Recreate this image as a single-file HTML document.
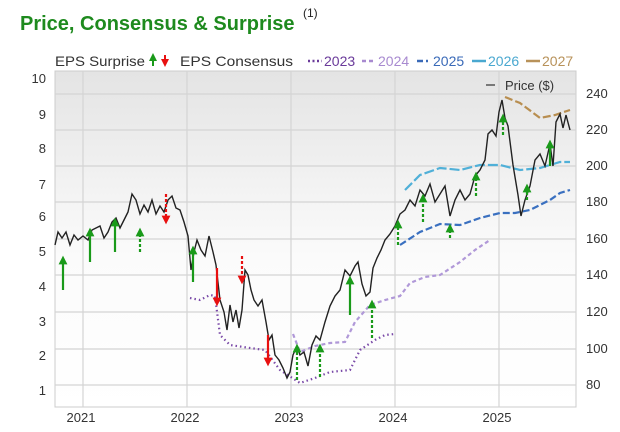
<!DOCTYPE html>
<html><head><meta charset="utf-8"><style>
body{margin:0;background:#fff;width:620px;height:427px;overflow:hidden;font-family:"Liberation Sans",sans-serif}
</style></head><body>
<svg width="620" height="427" xmlns="http://www.w3.org/2000/svg" font-family="Liberation Sans, sans-serif">
<defs>
<linearGradient id="bg" x1="0" y1="0" x2="0" y2="1"><stop offset="0" stop-color="#e4e4e4"/><stop offset="0.55" stop-color="#fbfbfb"/><stop offset="1" stop-color="#fff"/></linearGradient>
<marker id="ag" markerWidth="4" markerHeight="4" refX="2" refY="2" orient="auto"><path d="M0,0L4,2L0,4z" fill="#1a9a1a"/></marker>
<marker id="ar" markerWidth="4" markerHeight="4" refX="2" refY="2" orient="auto"><path d="M0,0L4,2L0,4z" fill="#e81010"/></marker>
</defs>
<text x="20" y="30" font-size="20" font-weight="bold" fill="#1e8a1e">Price, Consensus &amp; Surprise</text>
<text x="303" y="17" font-size="12" fill="#222">(1)</text>
<g font-size="14" fill="#333">
<text x="55" y="66" textLength="90" lengthAdjust="spacingAndGlyphs">EPS Surprise</text>
<line x1="153" y1="66" x2="153" y2="57" stroke="#1a9a1a" stroke-width="2" marker-end="url(#ag)"/>
<line x1="165" y1="55" x2="165" y2="63" stroke="#e81010" stroke-width="2" marker-end="url(#ar)"/>
<text x="180" y="66" textLength="113" lengthAdjust="spacingAndGlyphs">EPS Consensus</text>
<line x1="308" y1="61" x2="322" y2="61" stroke="#6a3a9a" stroke-width="2.5" stroke-dasharray="2,2.5"/>
<text x="324" y="66" fill="#6a3a9a">2023</text>
<line x1="362" y1="61" x2="376" y2="61" stroke="#a88ad0" stroke-width="2.5" stroke-dasharray="4,3"/>
<text x="378" y="66" fill="#a88ad0">2024</text>
<line x1="417" y1="61" x2="431" y2="61" stroke="#3a6ab8" stroke-width="2.5" stroke-dasharray="6,3,2,3"/>
<text x="433" y="66" fill="#3a6ab8">2025</text>
<line x1="472" y1="61" x2="486" y2="61" stroke="#4aa8d0" stroke-width="2.5"/>
<text x="488" y="66" fill="#4aa8d0">2026</text>
<line x1="526" y1="61" x2="540" y2="61" stroke="#b8925a" stroke-width="2.5"/>
<text x="542" y="66" fill="#b8925a">2027</text>
</g>
<rect x="55" y="71" width="521" height="336" fill="url(#bg)" stroke="#ccc"/>
<g stroke="#d4d4d4" stroke-width="1.2">
<line x1="83" y1="71" x2="83" y2="407"/><line x1="187" y1="71" x2="187" y2="407"/><line x1="291" y1="71" x2="291" y2="407"/><line x1="395" y1="71" x2="395" y2="407"/><line x1="499" y1="71" x2="499" y2="407"/>
<line x1="55" y1="94" x2="576" y2="94"/><line x1="55" y1="130" x2="576" y2="130"/><line x1="55" y1="166" x2="576" y2="166"/><line x1="55" y1="202" x2="576" y2="202"/><line x1="55" y1="239" x2="576" y2="239"/><line x1="55" y1="275" x2="576" y2="275"/><line x1="55" y1="312" x2="576" y2="312"/><line x1="55" y1="349" x2="576" y2="349"/><line x1="55" y1="385" x2="576" y2="385"/>
</g>
<g font-size="13" fill="#333" text-anchor="end">
<text x="46" y="83">10</text><text x="46" y="119">9</text><text x="46" y="153">8</text><text x="46" y="189">7</text><text x="46" y="221">6</text><text x="46" y="256">5</text><text x="46" y="291">4</text><text x="46" y="326">3</text><text x="46" y="360">2</text><text x="46" y="395">1</text>
</g>
<g font-size="13" fill="#333">
<text x="586" y="98">240</text><text x="586" y="134">220</text><text x="586" y="170">200</text><text x="586" y="206">180</text><text x="586" y="243">160</text><text x="586" y="279">140</text><text x="586" y="316">120</text><text x="586" y="353">100</text><text x="586" y="389">80</text>
</g>
<g font-size="13" fill="#333" text-anchor="middle">
<text x="81" y="422">2021</text><text x="185" y="422">2022</text><text x="289" y="422">2023</text><text x="393" y="422">2024</text><text x="497" y="422">2025</text>
</g>
<line x1="486" y1="85" x2="495" y2="85" stroke="#555" stroke-width="1.5"/>
<text x="505" y="90" font-size="13" fill="#333">Price ($)</text>
<g fill="none" stroke-width="2.2">
<polyline stroke="#7a4aa8" stroke-dasharray="1.5,3" points="190,298 200,300 210,295 215,296 220,335 230,345 250,348 265,350 280,370 300,383 315,378 330,372 350,370 360,350 375,340 385,335 395,334"/>
<polyline stroke="#b098d8" stroke-dasharray="4,3" points="293,334 300,352 315,346 330,343 345,342 355,322 370,305 385,300 400,296 410,283 425,277 440,275 460,262 475,250 490,240"/>
<polyline stroke="#3a70c0" stroke-dasharray="7,3" points="400,245 420,232 440,224 460,225 480,218 500,213 515,213 530,210 550,200 560,193 570,190"/>
<polyline stroke="#50b0d8" stroke-dasharray="10,3" points="405,190 420,175 440,168 460,170 480,165 500,165 520,170 540,168 560,162 570,162"/>
<polyline stroke="#b88e50" stroke-dasharray="8,3" points="505,97 520,103 540,118 555,115 570,110"/>
</g>
<polyline fill="none" stroke="#222" stroke-width="1.4" points="55,245 58,232 62,238 66,232 70,245 74,235 78,240 83,236 88,240 92,230 96,228 100,226 104,238 108,232 112,222 116,218 120,228 124,220 128,212 132,194 136,200 140,214 144,205 148,212 152,200 156,214 160,206 164,212 168,200 172,196 176,208 180,210 184,222 188,236 191,270 194,252 197,240 201,250 205,256 209,236 213,252 216,265 220,300 224,312 227,330 230,305 233,322 236,310 239,328 242,310 245,270 248,275 251,290 254,300 258,306 262,300 266,322 269,340 272,335 275,355 279,360 283,368 287,378 290,372 293,355 297,346 300,355 304,352 308,366 312,345 316,336 320,340 325,322 330,306 335,296 340,290 345,270 350,276 355,266 358,262 362,284 366,296 370,292 373,268 377,258 381,250 385,240 390,234 395,226 400,214 405,210 410,200 415,206 420,190 425,196 430,184 435,202 440,194 445,186 450,216 455,200 460,190 465,200 470,194 475,176 480,170 485,160 488,134 492,130 496,136 499,112 502,100 505,118 508,126 513,165 518,195 521,216 525,200 530,186 535,160 540,154 545,166 550,144 553,166 556,122 560,114 563,128 566,115 570,130"/>
<g stroke-width="2.2">
<line x1="63" y1="290" x2="63" y2="260" stroke="#1a9a1a" marker-end="url(#ag)"/>
<line x1="90" y1="262" x2="90" y2="232" stroke="#1a9a1a" marker-end="url(#ag)"/>
<line x1="115" y1="252" x2="115" y2="222" stroke="#1a9a1a" marker-end="url(#ag)"/>
<line x1="140" y1="252" x2="140" y2="232" stroke="#1a9a1a" stroke-dasharray="3,2" marker-end="url(#ag)"/>
<line x1="193" y1="282" x2="193" y2="250" stroke="#1a9a1a" marker-end="url(#ag)"/>
<line x1="350" y1="315" x2="350" y2="280" stroke="#1a9a1a" marker-end="url(#ag)"/>
<line x1="503" y1="135" x2="503" y2="118" stroke="#1a9a1a" stroke-dasharray="3,2" marker-end="url(#ag)"/>
<line x1="297" y1="380" x2="297" y2="348" stroke="#1a9a1a" stroke-dasharray="3,2" marker-end="url(#ag)"/>
<line x1="320" y1="377" x2="320" y2="348" stroke="#1a9a1a" stroke-dasharray="3,2" marker-end="url(#ag)"/>
<line x1="372" y1="338" x2="372" y2="304" stroke="#1a9a1a" stroke-dasharray="3,2" marker-end="url(#ag)"/>
<line x1="398" y1="245" x2="398" y2="224" stroke="#1a9a1a" stroke-dasharray="3,2" marker-end="url(#ag)"/>
<line x1="423" y1="222" x2="423" y2="198" stroke="#1a9a1a" stroke-dasharray="3,2" marker-end="url(#ag)"/>
<line x1="450" y1="238" x2="450" y2="228" stroke="#1a9a1a" stroke-dasharray="3,2" marker-end="url(#ag)"/>
<line x1="476" y1="196" x2="476" y2="176" stroke="#1a9a1a" stroke-dasharray="3,2" marker-end="url(#ag)"/>
<line x1="527" y1="200" x2="527" y2="188" stroke="#1a9a1a" stroke-dasharray="3,2" marker-end="url(#ag)"/>
<line x1="550" y1="166" x2="550" y2="144" stroke="#1a9a1a" marker-end="url(#ag)"/>
<line x1="166" y1="194" x2="166" y2="220" stroke="#e81010" stroke-dasharray="3,2" marker-end="url(#ar)"/>
<line x1="217" y1="268" x2="217" y2="302" stroke="#e81010" marker-end="url(#ar)"/>
<line x1="242" y1="256" x2="242" y2="280" stroke="#e81010" stroke-dasharray="3,2" marker-end="url(#ar)"/>
<line x1="268" y1="335" x2="268" y2="362" stroke="#e81010" marker-end="url(#ar)"/>
</g>
</svg>
</body></html>
